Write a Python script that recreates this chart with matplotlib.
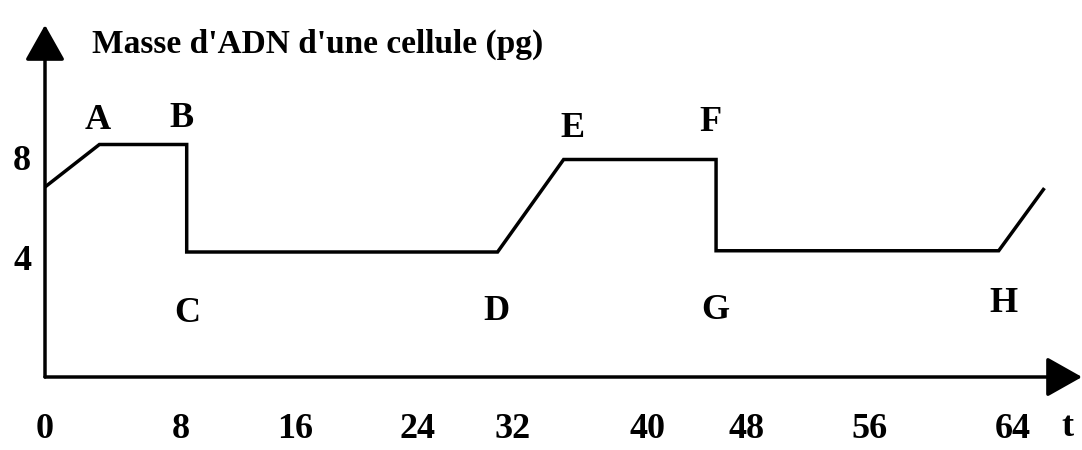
import matplotlib
matplotlib.use("Agg")
import matplotlib.pyplot as plt
import numpy as np

plt.rcParams["font.family"] = ["Liberation Serif", "DejaVu Serif"]

# DNA mass of one cell over time (t in h, mass in pg)
t_points = [0, 3.2, 8.4, 8.4, 30.7, 35.0, 45.5, 45.5, 63.2, 65.7]
mass = [6.8, 8.5, 8.5, 4.2, 4.2, 7.9, 7.9, 4.25, 4.25, 6.7]
point_names = ["", "A", "B", "C", "D", "E", "F", "G", "H", ""]

t_ticks = [0, 8, 16, 24, 32, 40, 48, 56, 64]
mass_ticks = [4, 8]

# the hand-drawn time axis is not evenly graduated: piecewise scale knots
knots = np.array([45, 181, 295, 418, 513, 648, 747, 870, 1013], float)
tk = np.array(t_ticks, float)
s0 = (knots[1] - knots[0]) / (tk[1] - tk[0])
s1 = (knots[-1] - knots[-2]) / (tk[-1] - tk[-2])


def fwd(t):
    t = np.asarray(t, float)
    out = np.interp(t, tk, knots)
    out = np.where(t < tk[0], knots[0] + (t - tk[0]) * s0, out)
    return np.where(t > tk[-1], knots[-1] + (t - tk[-1]) * s1, out)


def inv(x):
    x = np.asarray(x, float)
    out = np.interp(x, knots, tk)
    out = np.where(x < knots[0], tk[0] + (x - knots[0]) / s0, out)
    return np.where(x > knots[-1], tk[-1] + (x - knots[-1]) / s1, out)


fig = plt.figure(figsize=(10.82, 4.5), dpi=100)
ax = fig.add_axes([45 / 1082, 73 / 450, 1 - 45 / 1082, 377 / 450])
ax.set_xscale("function", functions=(fwd, inv))
t_end = float(inv(1082))
ax.set_xlim(0, t_end)
ax.set_ylim(-0.8, 14.28)

ax.plot(t_points, mass, color="black", lw=2.5, solid_joinstyle="miter")

# letters next to the key points
offsets = {"A": (-2, 24), "B": (-5, 26), "C": (1, -62), "D": (-1, -60),
           "E": (9, 31), "F": (-6, 37), "G": (-1, -60), "H": (5, -53)}
for t, m, name in zip(t_points, mass, point_names):
    if name:
        ax.annotate(name, (t, m), xytext=offsets[name], textcoords="offset pixels",
                    ha="center", va="center", fontsize=26, fontweight="bold")

# axes drawn as arrows
head = dict(arrowstyle="-|>,head_length=1.1,head_width=0.62", mutation_scale=20,
            color="black", lw=2.5, shrinkA=0, shrinkB=0)
ax.annotate("", xy=(t_end, -0.8), xytext=(0, -0.8), arrowprops=head, annotation_clip=False)
ax.annotate("", xy=(0, 13.28), xytext=(0, -0.8), arrowprops=head, annotation_clip=False)

for side in ax.spines.values():
    side.set_visible(False)

ax.set_xticks(t_ticks, [str(v) for v in t_ticks], fontweight="bold")
ax.set_yticks(mass_ticks, [str(v) for v in mass_ticks], fontweight="bold")
ax.tick_params(axis="x", length=0, pad=26, labelsize=26)
ax.tick_params(axis="y", length=0, pad=10, labelsize=26)

fig.text(1067 / 1082, 1 - 427 / 450, "t", fontsize=26, fontweight="bold",
         ha="center", va="center")
fig.text(92 / 1082, 1 - 44 / 450, "Masse d'ADN d'une cellule (pg)", fontsize=24,
         fontweight="bold", ha="left", va="center")

fig.savefig("out.png", dpi=100)
